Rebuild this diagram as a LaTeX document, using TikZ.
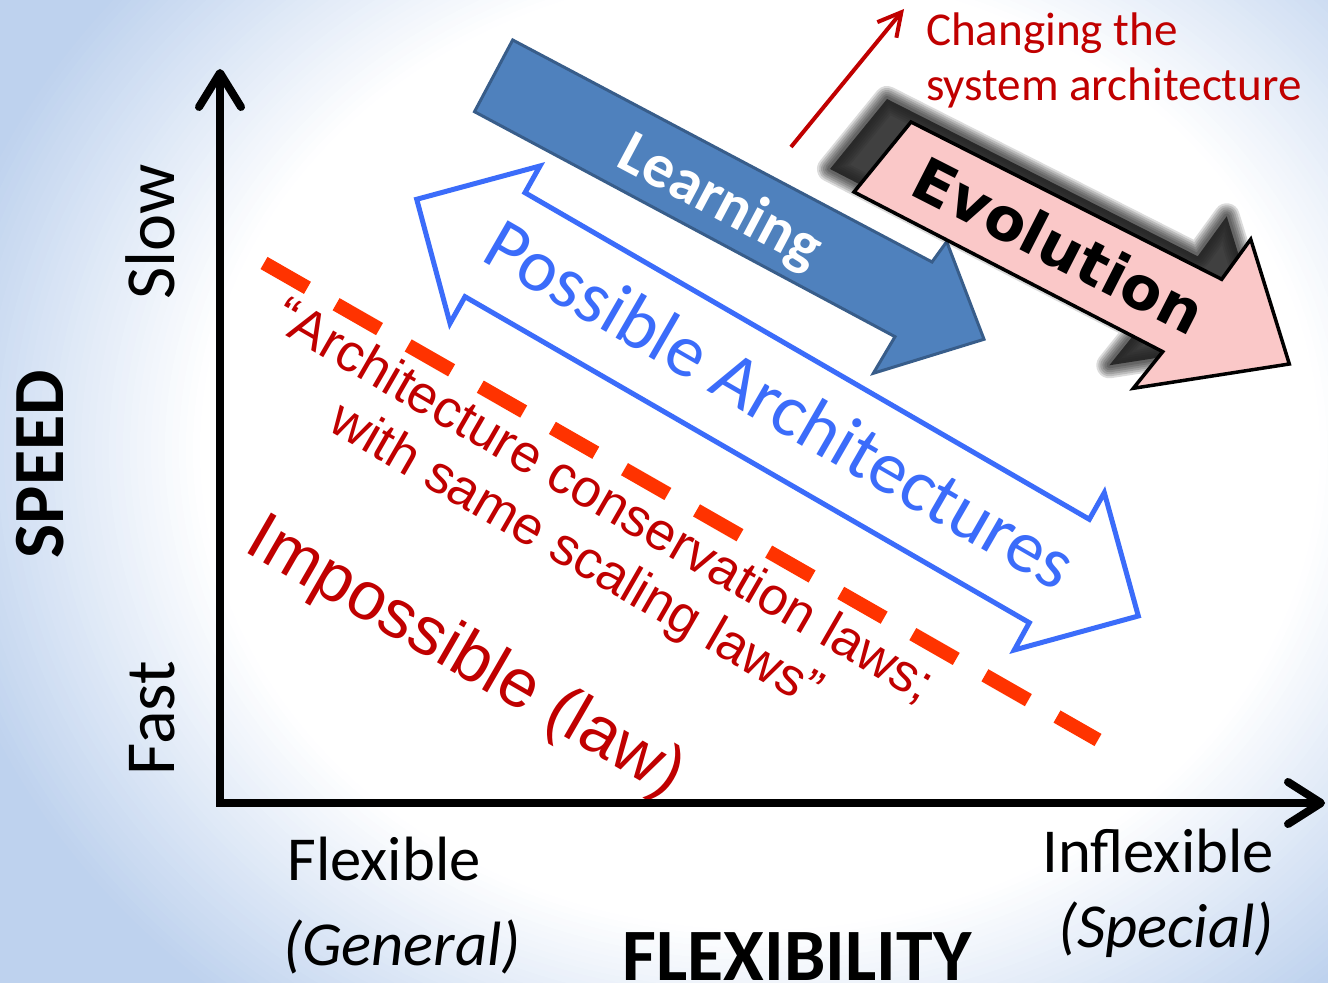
\documentclass[tikz,border=0pt]{standalone}
\usepackage{fontspec}
\setmainfont{Carlito}
\newfontfamily\arialf{Liberation Sans}
\newfontfamily\verdf{DejaVu Sans}
\usetikzlibrary{calc,arrows.meta}
\definecolor{bgB}{RGB}{190,210,238}
\definecolor{learnfill}{RGB}{79,129,189}
\definecolor{learnline}{RGB}{56,93,138}
\definecolor{possblue}{RGB}{59,108,250}
\definecolor{dashred}{RGB}{255,51,0}
\definecolor{darkred}{RGB}{192,0,0}
\definecolor{evopink}{RGB}{250,200,200}
\begin{document}
\begin{tikzpicture}[x=0.01cm,y=-0.01cm,
  lbl/.style={inner sep=0pt, outer sep=0pt},
  axis/.style={line width=0.08cm, black, line join=miter},
  axtip/.style={line width=0.08cm, black, line cap=round, line join=round},
  evopath/.style={insert path={(911,122) -- (1221.7,279.3) -- (1250.7,239.3) -- (1289.3,364) -- (1133.3,388.3) -- (1162.7,351.7) -- (854,192) -- cycle}},
  sizeA/.style={font=\fontsize{20}{24}\selectfont},
  sizeB/.style={font=\fontsize{17.8}{21}\selectfont},
]
\useasboundingbox (0,0) rectangle (1328,983);
% background: white centre fading to light blue at the edges
\begin{scope}
  \clip (0,0) rectangle (1328,983);
  \fill[bgB] (0,0) rectangle (1328,983);
  \foreach \i in {0,...,40} {
    \pgfmathsetmacro\r{1.2 - \i*0.01}
    \pgfmathtruncatemacro\p{100 - \i*2.5}
    \fill[bgB!\p!white] (760,450) ellipse [x radius=\r*700, y radius=\r*600];
  }
\end{scope}

% Possible architectures double arrow
\draw[possblue, line width=0.05cm, line join=miter]
  (416.7,199.3) -- (540,166) -- (525,192.7) -- (1089.3,519.3) -- (1104.3,492.7)
  -- (1138.3,616) -- (1014.3,650) -- (1029.3,622.7) -- (465,296.7) -- (450,323.3) -- cycle;

% Learning arrow
\draw[learnline, fill=learnfill, line width=0.03cm, line join=miter]
  (512.7,40) -- (932,262) -- (946.7,241.7) -- (984,339.3) -- (873.3,373.3) -- (895,336.7) -- (474.5,111.7) -- cycle;

% Evolution shadow (soft)
\begin{scope}[shift={(-24,-23)}]
  \foreach \w in {0.26,0.22,0.18,0.14,0.10,0.06}
    \draw[line width=\w cm, black, opacity=0.14, line join=round, evopath];
  \fill[black!88, opacity=0.85, evopath];
\end{scope}
% Evolution arrow
\draw[black, fill=evopink, line width=0.035cm, line join=miter, evopath];

% texts on arrows
\node[lbl, rotate=-28, anchor=base, text=white, font=\bfseries\fontsize{17.6}{20}\selectfont] (learn) at (712,217) {Learning};
\node[lbl, rotate=-27, anchor=base, font=\verdf\bfseries\fontsize{17}{20}\selectfont] (evo) at (1049,265) {Evolution};
\node[lbl, rotate=-30, anchor=base, text=possblue, font=\fontsize{21.2}{25}\selectfont] (poss) at (768,426) {Possible Architectures};

% dashed boundary
\coordinate (d1) at (264,263);
\coordinate (d2) at (1098,740);
\draw[dashred, line width=0.14cm, dash pattern=on 0.5cm off 0.33cm] (d1) -- (d2);

% red texts
\node[lbl, rotate=-30, anchor=base, text=darkred, font=\arialf\fontsize{15.1}{18}\selectfont] (law1) at (596,515) {“Architecture conservation laws;};
\node[lbl, rotate=-30, anchor=base, text=darkred, font=\arialf\fontsize{15.1}{18}\selectfont] (law2) at (568,569) {with same scaling laws”};
\node[lbl, rotate=-30, anchor=base, text=darkred, font=\arialf\fontsize{19.4}{23}\selectfont] (imp) at (456,674) {Impossible (law)};

% changing architecture
\node[lbl, anchor=base west, text=darkred, font=\fontsize{13.4}{16}\selectfont] (chg1) at (926,46) {Changing the};
\node[lbl, anchor=base west, text=darkred, font=\fontsize{13.4}{16}\selectfont] (chg2) at (926,101) {system architecture};
\coordinate (rs) at (791,147);
\coordinate (re) at (904,9);
\draw[darkred, line width=0.04cm, -{Straight Barb[length=6.5pt,width=7pt]}] (rs) -- (re);

% axes
\coordinate (O) at (220,803);
\coordinate (ytop) at (220,73);
\coordinate (xend) at (1321,803);
\draw[axis] (ytop) -- (O) -- (xend);
\draw[axtip] ($(ytop)+(-21,34)$) -- (ytop) -- ($(ytop)+(21,34)$);
\draw[axtip] ($(xend)+(-33,-21)$) -- (xend) -- ($(xend)+(-33,21)$);

% axis labels
\node[lbl, sizeA, rotate=90, anchor=base] (slow) at (174,232) {Slow};
\node[lbl, sizeA, rotate=90, anchor=base] (fast) at (174,718) {Fast};
\node[lbl, rotate=90, anchor=base, font=\bfseries\fontsize{20.5}{24}\selectfont] (speed) at (64,464) {SPEED};
\node[lbl, sizeB, anchor=base] (flex) at (384,880) {Flexible};
\node[lbl, anchor=base, font=\itshape\fontsize{17.8}{21}\selectfont] (gen) at (402,965) {(General)};
\node[lbl, anchor=base, font=\bfseries\fontsize{21}{24}\selectfont] (flexaxis) at (797,980) {FLEXIBILITY};
\node[lbl, sizeB, anchor=base] (inflex) at (1158,872) {Inflexible};
\node[lbl, anchor=base, font=\itshape\fontsize{17.8}{21}\selectfont] (spec) at (1166,947) {(Special)};
\end{tikzpicture}
\end{document}
